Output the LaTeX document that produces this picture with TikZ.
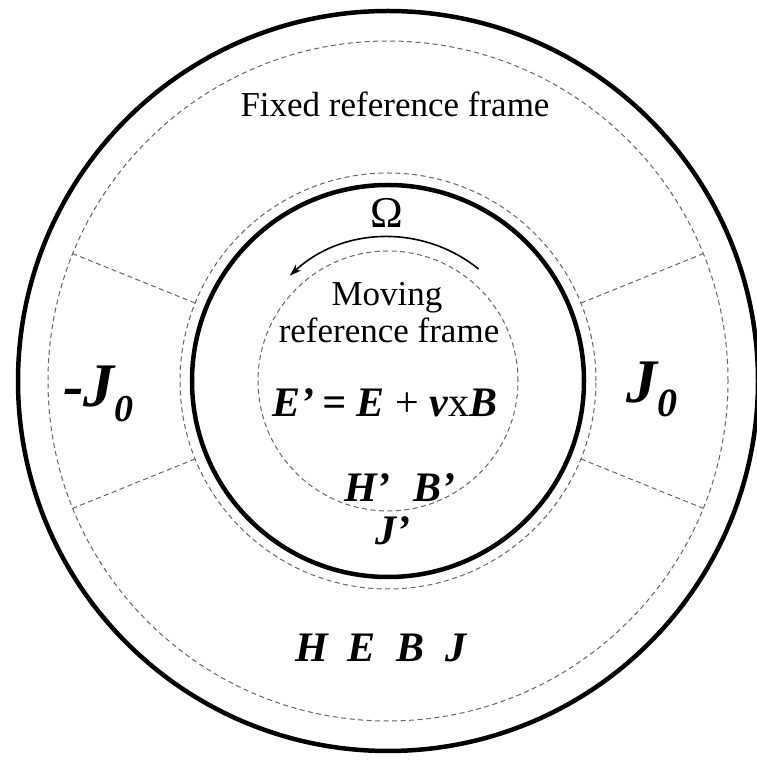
\documentclass[tikz,border=0pt]{standalone}
\usepackage{fontspec}
\setmainfont{Liberation Serif}
\usetikzlibrary{arrows.meta}
\begin{document}
\begin{tikzpicture}[x=1pt,y=1pt,
  solidring/.style={line width=4.5pt},
  dashring/.style={line width=1pt, draw=black!60, dash pattern=on 5pt off 3.5pt},
  lbl/.style={anchor=base, inner sep=0pt, font=\fontsize{35}{40}\selectfont},
  sym/.style={anchor=base, inner sep=0pt, font=\fontsize{42}{48}\selectfont\bfseries\itshape},
  bigsym/.style={anchor=base west, inner sep=0pt, font=\fontsize{62}{70}\selectfont\bfseries\itshape},
]
\useasboundingbox (0,0) rectangle (756,763);
\fill[white] (0,0) rectangle (756,763);
\coordinate (C) at (388,382);
% rings
\draw[solidring] (C) circle[radius=370];
\draw[dashring] (C) circle[radius=340];
\draw[dashring] (C) circle[radius=208];
\draw[solidring] (C) circle[radius=196];
\draw[dashring] (C) circle[radius=130];
% radial separators
\foreach \a in {22,158,202,338}{
  \draw[dashring] ([shift={(\a:208)}]C) -- ([shift={(\a:340)}]C);
}
% rotation arrow
\draw[line width=1.6pt, -{Stealth[length=12pt,width=8pt]}] ([shift={(51:144)}]C) arc[start angle=51, end angle=133, radius=144];
% labels
\node[lbl] (fixed) at (395,646) {Fixed reference frame};
\node[lbl, font=\fontsize{44}{48}\selectfont] (omega) at (387,535) {Ω};
\node[lbl] (moving) at (387,457) {Moving};
\node[lbl] (refr) at (389,420) {reference frame};
\node[sym] (eq) at (385,346) {E’\hspace{0.18em}=\hspace{0.25em}E {\mdseries\upshape +} v{\mdseries\upshape x}B};
\node[sym] (hb) at (400,261) {H’\hspace{0.55em}B’};
\node[sym] (jp) at (393,218) {J’};
\node[sym] (hebj) at (381,101) {H\hspace{0.45em}E\hspace{0.5em}B\hspace{0.5em}J};
\node[bigsym] (mj) at (63,356) {-J\raisebox{-15pt}{\fontsize{38}{40}\selectfont 0}};
\node[bigsym] (pj) at (626,360) {J\raisebox{-14pt}{\fontsize{40}{42}\selectfont 0}};
\end{tikzpicture}
\end{document}
